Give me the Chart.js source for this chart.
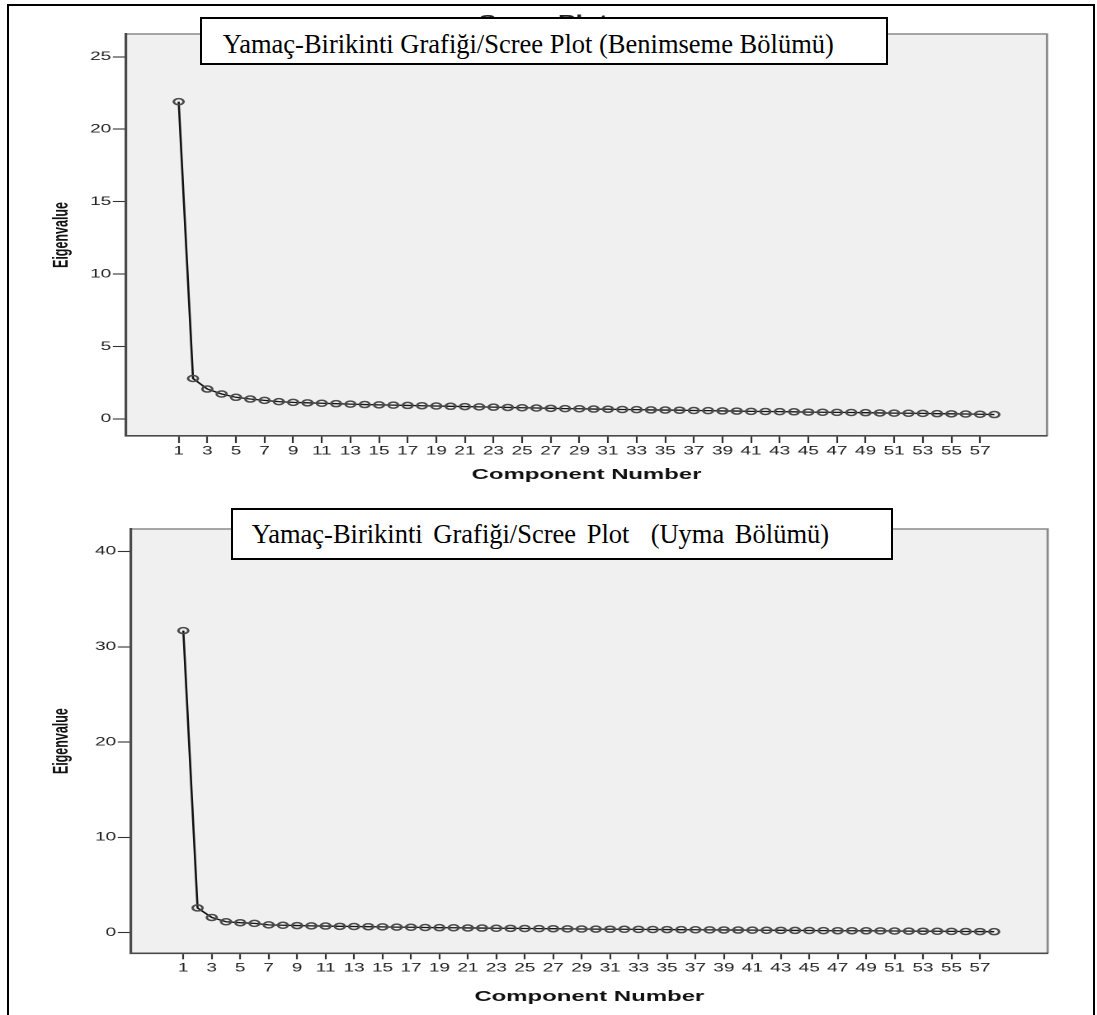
<!DOCTYPE html>
<html>
<head>
<meta charset="utf-8">
<script src="https://cdn.jsdelivr.net/npm/chart.js@4.4.1/dist/chart.umd.min.js"></script>
<style>
  body { margin: 0; background: #fff; width: 1097px; height: 1015px; overflow: hidden; position: relative; }
  /* the SPSS pictures are stretched sideways in the source, so the canvases are too */
  .wrap { position: absolute; left: 0; width: 665px; transform: scaleX(1.6496); transform-origin: 0 0; }
  #w1 { top: 0; height: 490px; }
  #w2 { top: 490px; height: 525px; }
  .box {
    position: absolute; background: #fff; border: 2px solid #000; box-sizing: border-box;
    font-family: "Liberation Serif", "Times New Roman", serif; color: #000;
    white-space: pre; line-height: 30px;
  }
  #t1 { left: 200px; top: 17px; width: 688px; height: 48px; font-size: 26.5px; padding: 9.7px 0 0 20.7px; }
  #t2 { left: 230.7px; top: 508.3px; width: 662px; height: 52px; font-size: 26.5px; word-spacing: 4px; padding: 9px 0 0 19px; }
  .frame { position: absolute; left: 7px; top: 4px; width: 1084px; height: 1040px; border: 2px solid #000; pointer-events: none; }
</style>
</head>
<body>
<div class="wrap" id="w1"><canvas id="c1" width="665" height="490"></canvas></div>
<div class="wrap" id="w2"><canvas id="c2" width="665" height="525"></canvas></div>
<div class="box" id="t1">Yamaç-Birikinti Grafiği/Scree Plot (Benimseme Bölümü)</div>
<div class="box" id="t2">Yamaç-Birikinti Grafiği/Scree Plot  (Uyma Bölümü)</div>
<div class="frame"></div>
<script>
// eigenvalues, component 1..58
const benimseme = [
  21.9, 2.8, 2.07, 1.73, 1.5, 1.38, 1.29, 1.2, 1.15, 1.12,
  1.09, 1.06, 1.03, 1.0, 0.98, 0.96, 0.94, 0.92, 0.9, 0.88,
  0.86, 0.84, 0.82, 0.8, 0.78, 0.76, 0.74, 0.72, 0.71, 0.69,
  0.68, 0.66, 0.65, 0.63, 0.62, 0.61, 0.59, 0.58, 0.56, 0.55,
  0.53, 0.52, 0.51, 0.5, 0.48, 0.47, 0.46, 0.45, 0.44, 0.42,
  0.41, 0.4, 0.39, 0.37, 0.36, 0.35, 0.33, 0.31
]
const uyma = [
  31.7, 2.6, 1.6, 1.15, 1.05, 0.98, 0.82, 0.78, 0.75, 0.72,
  0.7, 0.67, 0.65, 0.63, 0.61, 0.59, 0.57, 0.55, 0.53, 0.52,
  0.5, 0.49, 0.47, 0.46, 0.44, 0.43, 0.42, 0.4, 0.39, 0.38,
  0.37, 0.36, 0.35, 0.34, 0.33, 0.32, 0.31, 0.3, 0.29, 0.28,
  0.27, 0.26, 0.25, 0.24, 0.23, 0.22, 0.21, 0.21, 0.2, 0.19,
  0.18, 0.17, 0.16, 0.15, 0.14, 0.13, 0.12, 0.11
]
const components = benimseme.map((_, i) => i + 1)

const xTicks = [1, 3, 5, 7, 9, 11, 13, 15, 17, 19, 21, 23, 25, 27, 29, 31, 33, 35, 37, 39, 41, 43, 45, 47, 49, 51, 53, 55, 57]
const yTicksTop = [0, 5, 10, 15, 20, 25]
const yTicksBottom = [0, 10, 20, 30, 40]

const FONT = '"Liberation Sans", Arial, sans-serif'

// grey plot background with a frame on top and right like SPSS
const plotFrame = {
  id: 'plotFrame',
  beforeDraw(chart) {
    const { ctx, chartArea: a } = chart
    ctx.save()
    ctx.fillStyle = '#f0f0f0'
    ctx.fillRect(a.left, a.top, a.right - a.left, a.bottom - a.top)
    ctx.strokeStyle = '#8a8a8a'
    ctx.lineWidth = 1.4
    ctx.beginPath()
    ctx.moveTo(a.left, a.top)
    ctx.lineTo(a.right, a.top)
    ctx.lineTo(a.right, a.bottom)
    ctx.stroke()
    ctx.restore()
  },
}

const makeChart = function (canvas, values, opts) {
  return new Chart(canvas, {
    type: 'line',
    data: {
      datasets: [
        {
          data: components.map((c, i) => ({ x: c, y: values[i] })),
          borderColor: '#111',
          borderWidth: 1.3,
          tension: 0,
          pointRadius: 3,
          pointBorderWidth: 1.5,
          pointBorderColor: '#4a4a4a',
          pointBackgroundColor: 'rgba(0,0,0,0)',
        },
      ],
    },
    options: {
      responsive: false,
      animation: false,
      devicePixelRatio: 2,
      layout: { padding: { left: 24, right: opts.padRight, top: opts.padTop, bottom: 0 } },
      plugins: {
        legend: { display: false },
        tooltip: { enabled: false },
        title: {
          display: opts.showTitle,
          text: 'Scree Plot',
          color: '#222',
          font: { family: FONT, size: 16, weight: 'bold' },
          padding: { top: 12, bottom: 2.8 },
        },
      },
      scales: {
        x: {
          type: 'linear',
          min: -2.68,
          max: opts.xMax,
          afterFit: (s) => { s.height = opts.xHeight },
          afterBuildTicks: (s) => { s.ticks = xTicks.map((v) => ({ value: v })) },
          grid: { drawOnChartArea: false, tickLength: opts.xTick, tickColor: '#333', tickWidth: 1.1 },
          border: { color: '#4a4a4a', width: 1.6 },
          ticks: { autoSkip: false, maxRotation: 0, padding: opts.xPad, color: '#222', font: { family: FONT, size: 11.5 } },
          title: {
            display: true,
            text: 'Component Number',
            color: '#111',
            font: { family: FONT, size: 14.5, weight: 'bold' },
            padding: { top: 0, bottom: opts.xTitlePad },
          },
        },
        y: {
          min: opts.yMin,
          max: opts.yMax,
          afterFit: (s) => { s.width = opts.yWidth },
          afterBuildTicks: (s) => { s.ticks = opts.yTicks.map((v) => ({ value: v })) },
          grid: { drawOnChartArea: false, tickLength: 8, tickColor: '#333', tickWidth: 1.1 },
          border: { color: '#4a4a4a', width: 1.6 },
          ticks: { padding: 1, color: '#222', font: { family: FONT, size: 11.5 } },
          title: {
            display: true,
            text: 'Eigenvalue',
            color: '#111',
            font: { family: FONT, size: 12.5, weight: 'bold' },
            padding: { top: 6.1, bottom: 0 },
          },
        },
      },
    },
    plugins: [plotFrame],
  })
}

makeChart(document.getElementById('c1'), benimseme, {
  showTitle: true, padTop: 0, padRight: 30.3, xMax: 61.68, xHeight: 54, xTick: 7, xPad: 1.2, xTitlePad: 6.3,
  yMin: -1.17, yMax: 26.57, yWidth: 52.4, yTicks: yTicksTop,
})

makeChart(document.getElementById('c2'), uyma, {
  showTitle: false, padTop: 39, padRight: 29.9, xMax: 61.76, xHeight: 61.7, xTick: 6, xPad: 1.9, xTitlePad: 9.3,
  yMin: -2.16, yMax: 42.36, yWidth: 55.4, yTicks: yTicksBottom,
})
</script>
</body>
</html>
